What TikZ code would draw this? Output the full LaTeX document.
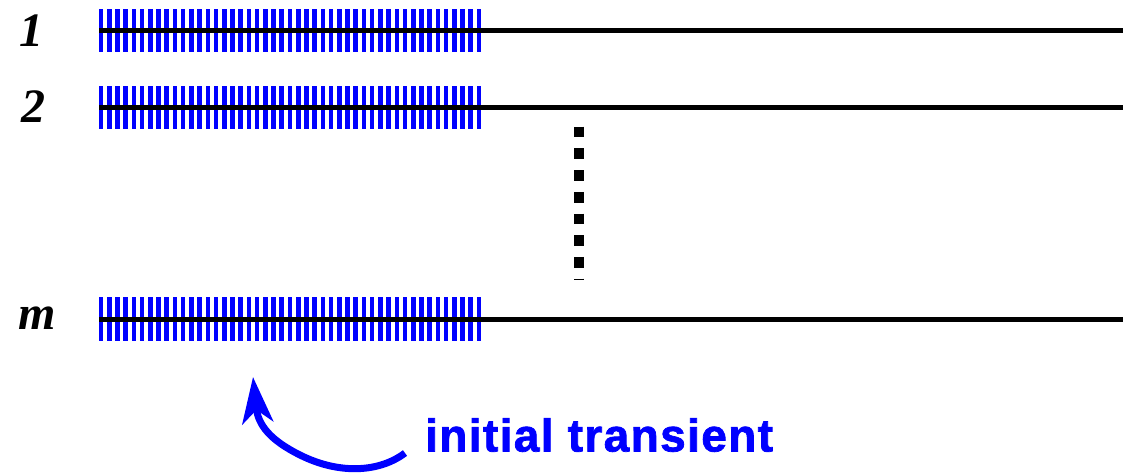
\documentclass[tikz,border=0pt]{standalone}
\usepackage{fontspec}
\setmainfont{Liberation Serif}
\newfontfamily\labelsans[FakeBold=1.6,LetterSpace=3]{Liberation Sans Bold}
\usetikzlibrary{arrows.meta}
\definecolor{tblue}{RGB}{0,0,255}
\tikzset{
  rowlabel/.style={font=\fontsize{48}{48}\selectfont\bfseries\itshape, inner sep=0pt, anchor=center},
  stripe/.style={draw=tblue, line width=4.6pt},
  timeline/.style={draw=black, line width=5pt},
  dotsline/.style={draw=black, line width=10.8pt, dash pattern=on 10.7pt off 11pt},
  notelabel/.style={font=\labelsans\fontsize{46}{46}\selectfont, text=tblue, inner sep=0pt, anchor=west},
  notearrow/.style={draw=tblue, line width=7pt, -{Stealth[length=46pt,width=31pt,inset=13pt]}}
}
\begin{document}
\begin{tikzpicture}[x=1pt,y=-1pt]
\useasboundingbox (0,0) rectangle (1123,475);
% stripes
\foreach \yt/\yb in {9/52, 86/129, 297/341}{
  \foreach \i in {0,...,46}{
    \draw[stripe] ({101+\i*8.217},\yt) -- ({101+\i*8.217},\yb);
  }
}
% timelines
\coordinate (s1) at (99,30);   \coordinate (e1) at (1123,30);
\coordinate (s2) at (99,107);  \coordinate (e2) at (1123,107);
\coordinate (sm) at (99,319);  \coordinate (em) at (1123,319);
\draw[timeline] (s1) -- (e1);
\draw[timeline] (s2) -- (e2);
\draw[timeline] (sm) -- (em);
% labels
\node[rowlabel] (l1) at (31,31) {1};
\node[rowlabel] (l2) at (33,107) {2};
\node[rowlabel] (lm) at (37,318) {m};
% vertical dots
\coordinate (dtop) at (579,126.7);
\coordinate (dbot) at (579,279.5);
\draw[dotsline] (dtop) -- (dbot);
% note
\node[notelabel] (note) at (425,435) {initial transient};
\coordinate (astart) at (405,453);
\coordinate (atip) at (253,377);
\draw[notearrow] (astart) .. controls (380,472) and (340,475) .. (300,455) .. controls (270,440) and (258,425) .. (atip);
\end{tikzpicture}
\end{document}
